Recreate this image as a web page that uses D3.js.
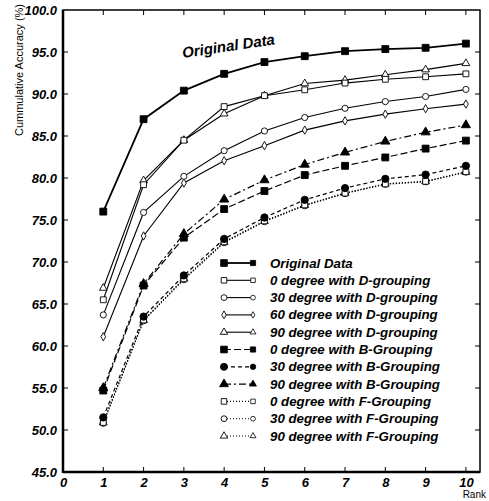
<!DOCTYPE html>
<html>
<head>
<meta charset="utf-8">
<script src="https://cdn.jsdelivr.net/npm/d3@7"></script>
<style>
  body { margin: 0; background: #fff; }
  svg text { font-family: "Liberation Sans", Arial, sans-serif; }
</style>
</head>
<body>
<div id="chart"></div>
<script>
// ranks on the x axis
var ranks = [1, 2, 3, 4, 5, 6, 7, 8, 9, 10];

var original   = [76.0, 87.0, 90.4, 92.4, 93.8, 94.5, 95.1, 95.35, 95.5, 96.0];
var d0         = [65.5, 79.2, 84.5, 88.5, 89.8, 90.5, 91.3, 91.75, 92.05, 92.4];
var d30        = [63.7, 75.9, 80.2, 83.25, 85.6, 87.2, 88.3, 89.1, 89.7, 90.55];
var d60        = [61.1, 73.1, 79.4, 82.05, 83.85, 85.7, 86.8, 87.6, 88.25, 88.8];
var d90        = [66.9, 79.7, 84.5, 87.65, 89.8, 91.25, 91.65, 92.3, 92.9, 93.65];
var b0         = [54.7, 67.2, 72.9, 76.3, 78.45, 80.35, 81.45, 82.45, 83.5, 84.45];
var b30        = [51.5, 63.5, 68.4, 72.75, 75.3, 77.4, 78.8, 79.9, 80.4, 81.45];
var b90        = [55.0, 67.4, 73.35, 77.45, 79.75, 81.6, 83.05, 84.35, 85.45, 86.3];
var f0         = [50.9, 63.1, 68.0, 72.4, 74.9, 76.8, 78.2, 79.3, 79.6, 80.75];
var f30        = [50.8, 63.0, 67.9, 72.3, 74.8, 76.7, 78.15, 79.25, 79.55, 80.7];
var f90        = [50.9, 63.05, 68.0, 72.35, 74.85, 76.75, 78.2, 79.3, 79.6, 80.7];

var yTicks = [45, 50, 55, 60, 65, 70, 75, 80, 85, 90, 95, 100];
var xTicks = [0, 1, 2, 3, 4, 5, 6, 7, 8, 9, 10];

var series = [
  {name: 'Original Data',              vals: original, sym: 'square',   fill: true,  dash: null,        w: 1.8},
  {name: '0 degree with D-grouping',   vals: d0,       sym: 'square',   fill: false, dash: null,        w: 1.1},
  {name: '30 degree with D-grouping',  vals: d30,      sym: 'circle',   fill: false, dash: null,        w: 1.1},
  {name: '60 degree with D-grouping',  vals: d60,      sym: 'diamond',  fill: false, dash: null,        w: 1.1},
  {name: '90 degree with D-grouping',  vals: d90,      sym: 'triangle', fill: false, dash: null,        w: 1.1},
  {name: '0 degree with B-Grouping',   vals: b0,       sym: 'square',   fill: true,  dash: '7,3',       w: 1.2},
  {name: '30 degree with B-Grouping',  vals: b30,      sym: 'circle',   fill: true,  dash: '4,3',       w: 1.2},
  {name: '90 degree with B-Grouping',  vals: b90,      sym: 'triangle', fill: true,  dash: '7,3,2,3',   w: 1.2},
  {name: '0 degree with F-Grouping',   vals: f0,       sym: 'square',   fill: false, dash: '1,2',       w: 1.1},
  {name: '30 degree with F-Grouping',  vals: f30,      sym: 'circle',   fill: false, dash: '1,2',       w: 1.1},
  {name: '90 degree with F-Grouping',  vals: f90,      sym: 'triangle', fill: false, dash: '1,2',       w: 1.1}
];

var W = 489, H = 501;
var pL = 63, pR = 480, pT = 10, pB = 472;

var svg = d3.select('#chart').append('svg')
  .attr('width', W).attr('height', H);

var x = d3.scaleLinear().domain([0, 10.35]).range([pL, pR]);
var y = d3.scaleLinear().domain([45, 100]).range([pB, pT]);

// marker size (area) per symbol
var symSize = {square: 34, circle: 30, diamond: 20, triangle: 26};

function symPath(s, size) {
  var t = {square: d3.symbolSquare, circle: d3.symbolCircle, diamond: d3.symbolDiamond, triangle: d3.symbolTriangle}[s];
  return d3.symbol().type(t).size(size)();
}

// frame
svg.append('rect').attr('x', pL).attr('y', pT).attr('width', pR - pL).attr('height', pB - pT)
  .attr('fill', 'none').attr('stroke', '#000').attr('stroke-width', 1.5);
svg.append('line').attr('x1', pL).attr('x2', pL).attr('y1', pT).attr('y2', pB + 1)
  .attr('stroke', '#000').attr('stroke-width', 2.5);
svg.append('line').attr('x1', pL).attr('x2', pR).attr('y1', pB).attr('y2', pB)
  .attr('stroke', '#000').attr('stroke-width', 2.5);

// axes
var yAx = svg.append('g').attr('transform', 'translate(' + pL + ',0)')
  .call(d3.axisLeft(y).tickValues(yTicks).tickFormat(d3.format('.1f')).tickSize(0).tickPadding(6));
yAx.select('.domain').remove();
yAx.selectAll('text').attr('font-size', 13).attr('font-weight', 'bold').attr('font-style', 'italic');

var xAx = svg.append('g').attr('transform', 'translate(0,' + pB + ')')
  .call(d3.axisBottom(x).tickValues(xTicks).tickFormat(d3.format('d')).tickSize(0).tickPadding(6));
xAx.select('.domain').remove();
xAx.selectAll('text').attr('font-size', 13).attr('font-weight', 'bold').attr('font-style', 'italic');

// inward ticks
var tk = svg.append('g').attr('stroke', '#000').attr('stroke-width', 1);
ranks.forEach(function (r) {
  tk.append('line').attr('x1', x(r)).attr('x2', x(r)).attr('y1', pT).attr('y2', pT + 5);
  tk.append('line').attr('x1', x(r)).attr('x2', x(r)).attr('y1', pB).attr('y2', pB - 5);
});
yTicks.slice(1, -1).forEach(function (v) {
  tk.append('line').attr('x1', pL).attr('x2', pL + 5).attr('y1', y(v)).attr('y2', y(v));
  tk.append('line').attr('x1', pR).attr('x2', pR - 5).attr('y1', y(v)).attr('y2', y(v));
});

// axis titles
svg.append('text').attr('transform', 'translate(23,70) rotate(-90)')
  .attr('text-anchor', 'middle').attr('font-size', 11).text('Cummulative Accuracy (%)');
svg.append('text').attr('x', 486).attr('y', 498).attr('text-anchor', 'end')
  .attr('font-size', 10).text('Rank');

// lines and markers
var line = d3.line().x(function (d, i) { return x(ranks[i]); }).y(function (d) { return y(d); });

series.slice().reverse().forEach(function (s) {
  svg.append('path').datum(s.vals).attr('d', line)
    .attr('fill', 'none').attr('stroke', '#000').attr('stroke-width', s.w)
    .attr('stroke-dasharray', s.dash);
  svg.selectAll(null).data(s.vals).enter().append('path')
    .attr('transform', function (d, i) { return 'translate(' + x(ranks[i]) + ',' + y(d) + ')'; })
    .attr('d', symPath(s.sym, symSize[s.sym] * (s.fill ? 1.4 : 1)))
    .attr('fill', s.fill ? '#000' : '#fff').attr('stroke', '#000').attr('stroke-width', 0.9);
});

// annotation
svg.append('text').attr('transform', 'translate(183,58) rotate(-8.5)')
  .attr('font-size', 15).attr('font-weight', 'bold').attr('font-style', 'italic').text('Original Data');

// legend
var lg = svg.append('g');
series.forEach(function (s, i) {
  var ly = 263 + i * 17.3;
  lg.append('line').attr('x1', 224).attr('x2', 253).attr('y1', ly).attr('y2', ly)
    .attr('stroke', '#000').attr('stroke-width', s.w).attr('stroke-dasharray', s.dash);
  lg.append('path').attr('transform', 'translate(224,' + ly + ')').attr('d', symPath(s.sym, symSize[s.sym] * (s.fill ? 1.3 : 0.9)))
    .attr('fill', s.fill ? '#000' : '#fff').attr('stroke', '#000').attr('stroke-width', 0.9);
  lg.append('path').attr('transform', 'translate(253,' + ly + ')').attr('d', symPath(s.sym, symSize[s.sym] * (s.fill ? 0.8 : 0.6)))
    .attr('fill', s.fill ? '#000' : '#fff').attr('stroke', '#000').attr('stroke-width', 0.8);
  lg.append('text').attr('x', 270).attr('y', ly + 4.5)
    .attr('font-size', 13.3).attr('font-weight', 'bold').attr('font-style', 'italic').text(s.name);
});
</script>
</body>
</html>
